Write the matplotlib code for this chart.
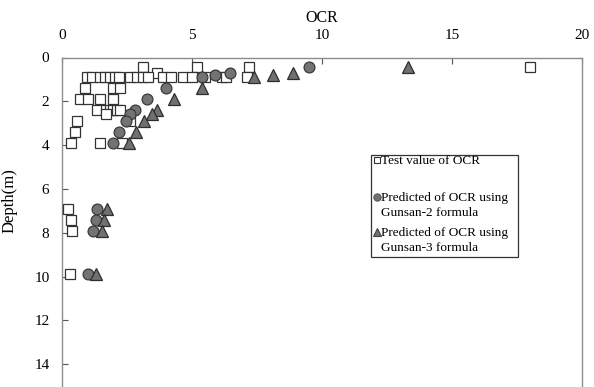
import matplotlib
matplotlib.use('Agg')
import matplotlib.pyplot as plt
from matplotlib.lines import Line2D
from matplotlib.patches import Rectangle

plt.rcParams['font.family'] = ['Liberation Serif', 'DejaVu Serif']

# ---- data ----
test_depth = [0.45, 0.45, 0.45, 0.45, 0.7,
              0.9, 0.9, 0.9, 0.9, 0.9, 0.9, 0.9, 0.9, 0.9, 0.9,
              0.9, 0.9, 0.9, 0.9, 0.9, 0.9, 0.9, 0.9, 0.9,
              1.4, 1.4, 1.4,
              1.9, 1.9, 1.9, 1.9,
              2.4, 2.4, 2.4, 2.4, 2.4, 2.4,
              2.6, 2.9, 2.9, 3.4, 3.9, 3.9, 3.9,
              6.9, 7.4, 7.9, 9.9]
test_ocr = [3.1, 5.2, 7.2, 18.0, 3.65,
            0.95, 1.15, 1.45, 1.65, 1.85, 2.05, 2.2, 2.6, 2.9, 3.1,
            3.3, 3.9, 4.2, 4.65, 5.0, 5.5, 6.15, 6.3, 7.1,
            0.88, 1.96, 2.23,
            0.69, 1.0, 1.46, 1.96,
            1.35, 1.7, 1.85, 1.96, 2.1, 2.23,
            1.7, 0.58, 2.6, 0.5, 0.35, 1.46, 2.3,
            0.22, 0.35, 0.37, 0.3]

pred_depth = [0.45, 0.7, 0.8, 0.9, 1.4, 1.9, 2.4, 2.6, 2.9, 3.4, 3.9,
              6.9, 7.4, 7.9, 9.9]
gunsan2_ocr = [9.5, 6.45, 5.9, 5.4, 4.0, 3.26, 2.8, 2.6, 2.46, 2.19, 1.96,
               1.33, 1.3, 1.2, 1.0]
gunsan3_ocr = [13.3, 8.9, 8.1, 7.4, 5.4, 4.3, 3.65, 3.46, 3.15, 2.85, 2.58,
               1.72, 1.62, 1.53, 1.3]

labels = ["Test value of OCR",
          "Predicted of OCR using\nGunsan-2 formula",
          "Predicted of OCR using\nGunsan-3 formula"]

W, H = 594, 387
fig = plt.figure(figsize=(W / 100, H / 100), dpi=100)
left, right, top = 62, 582, 57.5
ax = fig.add_axes([left / W, 0, (right - left) / W, 1 - top / H])

ax.plot(test_ocr, test_depth, linestyle='none', marker='s', ms=7.5,
        mfc='white', mec='#333333', mew=0.9, zorder=3)
ax.plot(gunsan2_ocr, pred_depth, linestyle='none', marker='o', ms=7.8,
        mfc='#737373', mec='#3a3a3a', mew=0.9, zorder=4)
ax.plot(gunsan3_ocr, pred_depth, linestyle='none', marker='^', ms=8.5,
        mfc='#707070', mec='#2e2e2e', mew=0.9, zorder=4)

ax.set_xlim(0, 20)
ax.set_ylim((H - top) / 21.9, 0)
ax.set_xticks([0, 5, 10, 15, 20])
ax.set_yticks([0, 2, 4, 6, 8, 10, 12, 14])
ax.xaxis.tick_top()
ax.xaxis.set_label_position('top')
ax.tick_params(axis='x', direction='in', length=4, pad=11, labelsize=11,
               color='#555555')
ax.tick_params(axis='y', direction='in', length=4, pad=9, labelsize=11,
               color='#555555')
ax.set_xlabel('OCR', fontsize=11.5, labelpad=5)
ax.set_ylabel('Depth(m)', fontsize=12)
ax.yaxis.set_label_coords(-0.085, 0.565)
for s in ['top', 'right', 'left']:
    ax.spines[s].set_color('#8c8c8c')
    ax.spines[s].set_linewidth(1.0)
ax.spines['bottom'].set_visible(False)

# ---- legend (drawn manually to match layout) ----
def fx(px):
    return px / W

def fy(py):
    return 1 - py / H

fig.patches.append(Rectangle((fx(371), fy(257)), fx(518) - fx(371),
                             fy(155) - fy(257), transform=fig.transFigure,
                             facecolor='white', edgecolor='#333333',
                             linewidth=0.9, zorder=5))
handles = [dict(marker='s', mfc='white', mec='#333333', ms=4.8),
           dict(marker='o', mfc='#737373', mec='#555555', ms=5.2),
           dict(marker='^', mfc='#707070', mec='#444444', ms=5.4)]
rows = [160, 197, 232]
for h, lab, py in zip(handles, labels, rows):
    fig.add_artist(Line2D([fx(376.5)], [fy(py)], linestyle='none',
                          transform=fig.transFigure, mew=0.8, zorder=6, **h))
    fig.text(fx(381), fy(py - 5), lab, fontsize=9.5, va='top', ha='left',
             linespacing=1.35, zorder=6)

fig.savefig('out.png', dpi=100)
